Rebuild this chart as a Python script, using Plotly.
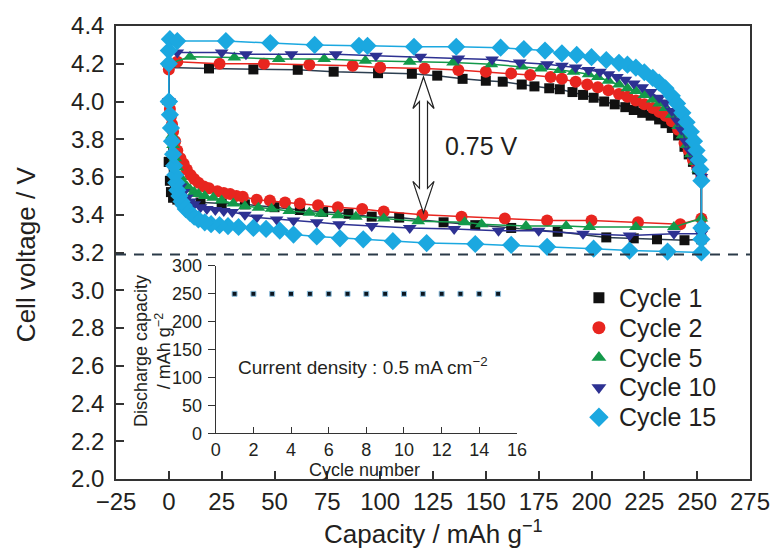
import plotly.graph_objects as go

# ---------------- data ----------------
cycle_names = ["Cycle 1", "Cycle 2", "Cycle 5", "Cycle 10", "Cycle 15"]

# upper branch (capacity increasing), V
c1_up_cap = [0, 0, 19, 40, 61, 78, 99, 115, 127, 139, 150, 158, 167, 173, 180, 185, 191, 196, 201, 206, 211, 216, 220, 224, 228, 232, 235, 238, 241, 244, 246, 248, 250, 252]
c1_up_v = [3.68, 4.18, 4.175, 4.17, 4.168, 4.158, 4.15, 4.147, 4.137, 4.12, 4.11, 4.105, 4.09, 4.08, 4.07, 4.065, 4.05, 4.035, 4.02, 4.0, 3.985, 3.97, 3.955, 3.94, 3.925, 3.905, 3.885, 3.86, 3.82, 3.76, 3.72, 3.68, 3.64, 3.6]
c1_lo_cap = [0, 0.5, 1, 2, 4, 8, 15, 25, 36, 50, 62, 73, 85, 96, 109, 130, 145, 162, 184, 207, 220, 231, 244, 252]
c1_lo_v = [3.68, 3.58, 3.52, 3.49, 3.48, 3.47, 3.465, 3.46, 3.455, 3.44, 3.425, 3.415, 3.405, 3.39, 3.385, 3.36, 3.345, 3.33, 3.31, 3.28, 3.275, 3.27, 3.265, 3.27]

c2_up_cap = [0, 0, 4, 24, 45, 66.5, 87, 100, 121, 137, 150, 162, 171, 180.7, 186, 192.5, 198, 203, 208, 213, 217, 221, 225, 229, 232, 235, 238, 241, 244, 246, 248, 250, 252]
c2_up_v = [4.0, 4.17, 4.21, 4.2, 4.2, 4.195, 4.19, 4.18, 4.175, 4.167, 4.158, 4.149, 4.14, 4.13, 4.12, 4.105, 4.09, 4.075, 4.06, 4.04, 4.025, 4.005, 3.985, 3.965, 3.945, 3.925, 3.895, 3.85, 3.78, 3.74, 3.69, 3.65, 3.6]
c2_lo_cap = [0, 0.5, 1, 1.5, 2, 3, 4, 5.5, 7, 8.5, 10.3, 12, 14, 16.6, 19, 23, 26, 29, 32, 35, 41.6, 47.8, 55, 62, 70.6, 80, 91.5, 101.7, 120, 138.5, 159, 179, 200, 222, 242, 252]
c2_lo_v = [4.0, 3.96, 3.92, 3.88, 3.84, 3.79, 3.74, 3.7, 3.67, 3.64, 3.61, 3.59, 3.57, 3.55, 3.54, 3.525, 3.515, 3.51, 3.5, 3.495, 3.48, 3.475, 3.465, 3.46, 3.45, 3.44, 3.43, 3.417, 3.4, 3.39, 3.38, 3.37, 3.37, 3.36, 3.35, 3.38]

c5_up_cap = [0, 0, 10, 31, 52, 73.5, 93, 114, 134.5, 152.6, 167, 176, 185, 191.5, 198.6, 203, 208, 213, 217, 221, 225, 229, 232, 235, 238, 241, 243, 245, 247, 249, 250.5, 252]
c5_up_v = [4.0, 4.2, 4.237, 4.233, 4.225, 4.225, 4.216, 4.21, 4.207, 4.197, 4.185, 4.175, 4.167, 4.158, 4.144, 4.13, 4.11, 4.09, 4.07, 4.055, 4.035, 4.01, 3.99, 3.965, 3.93, 3.87, 3.82, 3.77, 3.72, 3.68, 3.64, 3.6]
c5_lo_cap = [0, 0.5, 1, 1.5, 2, 3, 4, 5.5, 7, 8.5, 10, 12, 14, 17, 21, 25, 30.5, 36, 42.4, 48.6, 57, 66.5, 72, 80, 88.5, 101.7, 118, 140, 148, 169, 188, 199, 221, 239, 252]
c5_lo_v = [4.0, 3.94, 3.88, 3.82, 3.77, 3.7, 3.65, 3.6, 3.57, 3.55, 3.535, 3.52, 3.51, 3.5, 3.49, 3.475, 3.46, 3.445, 3.437, 3.432, 3.42, 3.41, 3.405, 3.398, 3.39, 3.38, 3.365, 3.36, 3.35, 3.34, 3.34, 3.335, 3.335, 3.335, 3.38]

c10_up_cap = [0, 0, 4, 25, 36.5, 58, 79, 98, 119, 137, 153, 166, 179, 186, 192.5, 198.6, 204, 208, 212, 216, 220, 224, 228, 232, 235, 238, 240.5, 242.5, 244.5, 246.5, 248.5, 250.5, 252]
c10_up_v = [4.0, 4.26, 4.26, 4.26, 4.25, 4.25, 4.25, 4.243, 4.237, 4.228, 4.223, 4.207, 4.197, 4.19, 4.18, 4.167, 4.158, 4.145, 4.13, 4.115, 4.095, 4.075, 4.05, 4.02, 3.995, 3.95, 3.9, 3.85, 3.79, 3.74, 3.69, 3.64, 3.6]
c10_lo_cap = [0, 0.5, 1, 1.5, 2, 3, 4, 5.5, 7, 8.5, 10, 12, 15, 18, 22, 26, 30, 36, 41.6, 51, 59, 70, 80.6, 96, 114, 135, 156, 175, 196, 218, 239, 252, 252]
c10_lo_v = [4.0, 3.92, 3.85, 3.78, 3.72, 3.65, 3.6, 3.55, 3.52, 3.49, 3.47, 3.455, 3.44, 3.43, 3.425, 3.42, 3.415, 3.4, 3.385, 3.375, 3.37, 3.36, 3.35, 3.34, 3.33, 3.325, 3.315, 3.315, 3.3, 3.29, 3.3, 3.3, 3.33]

c15_up_cap = [0, 0, 0, 0.5, 4, 27, 48, 69, 90, 94, 116, 136, 157, 168, 178, 186, 193, 200, 207, 213, 217, 221, 225, 229, 232, 235, 238, 240.5, 243, 245, 247, 248.5, 249.7, 250.7, 251.5, 252]
c15_up_v = [4.0, 4.2, 4.27, 4.33, 4.32, 4.32, 4.31, 4.3, 4.295, 4.295, 4.29, 4.29, 4.285, 4.278, 4.27, 4.255, 4.247, 4.235, 4.22, 4.205, 4.195, 4.18, 4.155, 4.125, 4.1, 4.07, 4.03, 3.99, 3.94, 3.89, 3.84, 3.79, 3.74, 3.69, 3.64, 3.58]
c15_lo_cap = [0, 0.5, 1, 1.5, 2, 2.5, 3, 3.5, 4, 5, 6, 7, 8, 10, 12, 14, 17, 20, 24, 28, 33, 40, 46, 52.5, 59, 70, 81, 92, 106, 122, 145, 162, 179, 201, 218, 236, 252, 252, 252]
c15_lo_v = [4.0, 3.93, 3.86, 3.79, 3.72, 3.66, 3.61, 3.57, 3.53, 3.5, 3.47, 3.45, 3.43, 3.41, 3.39, 3.375, 3.36, 3.35, 3.345, 3.34, 3.335, 3.33, 3.325, 3.316, 3.295, 3.285, 3.275, 3.27, 3.26, 3.25, 3.245, 3.24, 3.23, 3.22, 3.21, 3.205, 3.2, 3.27, 3.33]

# inset: discharge capacity vs cycle number
inset_cycles = [1, 2, 3, 4, 5, 6, 7, 8, 9, 10, 11, 12, 13, 14, 15]
inset_capacity = [250, 250, 250, 250, 250, 250, 250, 250, 250, 250, 250, 250, 250, 250, 250]

# x / y tick values
x_ticks = [-25, 0, 25, 50, 75, 100, 125, 150, 175, 200, 225, 250, 275]
y_ticks = [2.0, 2.2, 2.4, 2.6, 2.8, 3.0, 3.2, 3.4, 3.6, 3.8, 4.0, 4.2, 4.4]
inset_x_ticks = [0, 2, 4, 6, 8, 10, 12, 14, 16]
inset_y_ticks = [0, 50, 100, 150, 200, 250, 300]

cutoff_v = 3.19          # dashed reference line
arrow_cap = 120.5        # double arrow position
arrow_top = 4.13
arrow_bottom = 3.41

# ---------------- styles ----------------
colors = ["#111111", "#e8251f", "#13994a", "#2d3192", "#1ba8e0"]
line_colors = ["#2c3e50", "#e8251f", "#13994a", "#2d3192", "#1ba8e0"]
symbols = ["square", "circle", "triangle-up", "triangle-down", "diamond"]
sizes = [10, 12, 12, 12, 14]
FONT = "Liberation Sans, Arial, sans-serif"
TXT = "#231f20"

ups = [(c1_up_cap, c1_up_v), (c2_up_cap, c2_up_v), (c5_up_cap, c5_up_v), (c10_up_cap, c10_up_v), (c15_up_cap, c15_up_v)]
los = [(c1_lo_cap, c1_lo_v), (c2_lo_cap, c2_lo_v), (c5_lo_cap, c5_lo_v), (c10_lo_cap, c10_lo_v), (c15_lo_cap, c15_lo_v)]

L, R, T, B = 116, 24, 24, 72
W, H = 782, 551
pw, ph = W - L - R, H - T - B


def px_x(px):
    return (px - L) / pw


def px_y(py):
    return (H - B - py) / ph


fig = go.Figure()
for i in range(5):
    ux, uy = ups[i]
    lx, ly = los[i]
    fig.add_trace(go.Scatter(
        x=list(ux) + list(lx)[::-1], y=list(uy) + list(ly)[::-1],
        mode="lines+markers", name=cycle_names[i], showlegend=False,
        line=dict(color=line_colors[i], width=1.5),
        marker=dict(symbol=symbols[i], size=sizes[i], color=colors[i], line=dict(width=0)),
        xaxis="x", yaxis="y"))

# inset
fig.add_trace(go.Scatter(
    x=inset_cycles, y=inset_capacity, mode="markers", showlegend=False,
    marker=dict(symbol="square", size=5, color="#0b1620", line=dict(color="#8fc1e0", width=1)),
    xaxis="x2", yaxis="y2"))

# hand-placed legend: markers on a hidden helper axis, labels as annotations
leg_rows = list(range(len(cycle_names)))
for i in leg_rows:
    fig.add_trace(go.Scatter(
        x=[0], y=[i], mode="markers", showlegend=False, hoverinfo="skip",
        marker=dict(symbol=symbols[i], size=sizes[i] + 1, color=colors[i], line=dict(width=0)),
        xaxis="x3", yaxis="y3"))

# hollow double arrow
ws, wh, hl, nl = 1.9, 5.0, 0.167, 0.13
c, tp, bt = arrow_cap, arrow_top, arrow_bottom
arrow_path = (f"M {c},{tp} L {c+wh},{tp-hl} L {c+ws},{tp-nl} L {c+ws},{bt+nl} "
              f"L {c+wh},{bt+hl} L {c},{bt} L {c-wh},{bt+hl} L {c-ws},{bt+nl} "
              f"L {c-ws},{tp-nl} L {c-wh},{tp-hl} Z")

leg_top, leg_row_h = 282, 30
annotations = [
    dict(text="Cell voltage / V", xref="paper", yref="paper", x=px_x(25), y=px_y(253),
         textangle=-90, showarrow=False, font=dict(size=26, family=FONT, color=TXT),
         xanchor="center", yanchor="middle"),
    dict(text="Capacity / mAh g<sup>−1</sup>", xref="paper", yref="paper", x=0.5, y=px_y(533),
         showarrow=False, font=dict(size=26, family=FONT, color=TXT),
         xanchor="center", yanchor="middle"),
    dict(text="0.75 V", xref="x", yref="y", x=129.7, y=3.763, showarrow=False,
         xanchor="left", yanchor="middle", font=dict(size=25, family=FONT, color=TXT)),
    dict(text="Current density : 0.5 mA cm<sup>−2</sup>", xref="x2", yref="y2", x=1.1, y=121,
         showarrow=False, xanchor="left", yanchor="middle",
         font=dict(size=19, family=FONT, color=TXT)),
    dict(text="Discharge capacity<br>/ mAh g<sup>−2</sup>", xref="paper", yref="paper",
         x=px_x(153), y=px_y(351), textangle=-90, showarrow=False,
         xanchor="center", yanchor="middle", font=dict(size=18, family=FONT, color=TXT)),
    dict(text="Cycle number", xref="paper", yref="paper", x=px_x(368), y=px_y(470),
         showarrow=False, xanchor="center", yanchor="middle",
         font=dict(size=18, family=FONT, color=TXT)),
]
for i in leg_rows:
    annotations.append(dict(text=cycle_names[i], xref="paper", yref="y3", x=px_x(623), y=i,
                            showarrow=False, xanchor="left", yanchor="middle",
                            font=dict(size=25, family=FONT, color=TXT)))

fig.update_layout(
    width=W, height=H,
    margin=dict(l=L, r=R, t=T, b=B, pad=0),
    paper_bgcolor="white", plot_bgcolor="white",
    font=dict(family=FONT, color=TXT),
    showlegend=False,
    xaxis=dict(range=[-25, 275], tickvals=x_ticks, ticks="inside", ticklen=8, tickwidth=1.5,
               tickcolor="#333", showline=True, linewidth=1.5, linecolor="#333", mirror=True,
               showgrid=False, zeroline=False, tickfont=dict(size=24, family=FONT, color=TXT),
               ticklabelstandoff=0),
    yaxis=dict(range=[2.0, 4.4], tickvals=y_ticks, tickformat=".1f", ticks="inside", ticklen=8,
               tickwidth=1.5, tickcolor="#333", showline=True, linewidth=1.5, linecolor="#333",
               mirror=True, showgrid=False, zeroline=False,
               tickfont=dict(size=24, family=FONT, color=TXT), ticklabelstandoff=5),
    xaxis2=dict(domain=[px_x(217), px_x(522)], anchor="y2", range=[0, 16], tickvals=inset_x_ticks,
                ticks="inside", ticklen=6, tickwidth=1.2, tickcolor="#333", showline=True,
                linewidth=1.3, linecolor="#333", showgrid=False, zeroline=False,
                tickfont=dict(size=18, family=FONT, color=TXT), ticklabelstandoff=0),
    yaxis2=dict(domain=[px_y(433), px_y(265)], anchor="x2", range=[0, 300], tickvals=inset_y_ticks,
                ticks="outside", ticklen=7, tickwidth=1.2, tickcolor="#333", showline=True,
                linewidth=1.3, linecolor="#333", showgrid=False, zeroline=False,
                tickfont=dict(size=18, family=FONT, color=TXT), ticklabelstandoff=2),
    xaxis3=dict(domain=[px_x(595), px_x(615)], anchor="y3", range=[-1, 1], visible=False,
                fixedrange=True),
    yaxis3=dict(domain=[px_y(leg_top + leg_row_h * len(cycle_names)), px_y(leg_top)], anchor="x3",
                range=[len(cycle_names) - 0.5, -0.5], visible=False, fixedrange=True),
    shapes=[
        dict(type="line", xref="paper", yref="y", x0=0, x1=1, y0=cutoff_v, y1=cutoff_v,
             line=dict(color="#2b3a48", width=2, dash="10px,8px")),
        dict(type="path", xref="x", yref="y", path=arrow_path,
             fillcolor="white", line=dict(color="#222", width=1.2)),
    ],
    annotations=annotations,
)

fig.write_html("out.html")
